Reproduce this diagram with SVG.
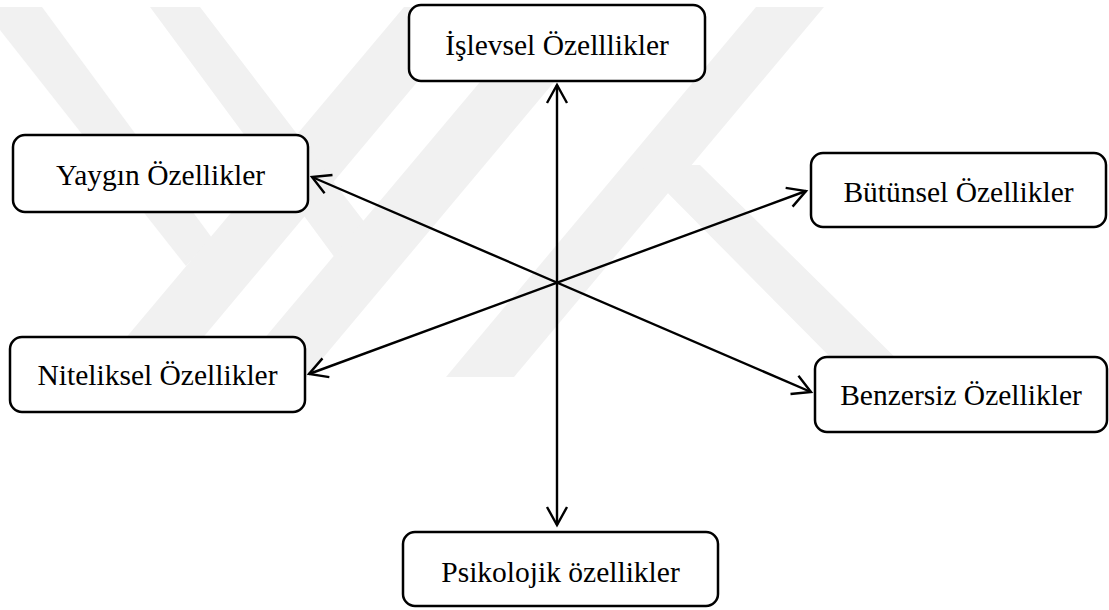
<svg xmlns="http://www.w3.org/2000/svg" width="1109" height="610" viewBox="0 0 1109 610">
  <defs>
    <style>
      .box { fill: #ffffff; stroke: #000000; stroke-width: 2.5; }
      .label { font-size: 29.5px; fill: #000000; text-anchor: middle; }
      .link { fill: none; stroke: #000000; stroke-width: 2.4; marker-start: url(#head); marker-end: url(#head); }
      .mark { fill: #f1f1f1; stroke: none; }
    </style>
    <marker id="head" markerUnits="userSpaceOnUse" viewBox="-22 -12 26 24" markerWidth="26" markerHeight="24" refX="0" refY="0" orient="auto-start-reverse" overflow="visible">
      <path d="M -18 -10 L 0 0 L -18 10" fill="none" stroke="#000000" stroke-width="2.4" stroke-linejoin="miter"/>
    </marker>
  </defs>

  <rect width="1109" height="610" fill="#ffffff"/>

  <!-- faint background emblem: slanted stems with arms -->
  <g id="emblem">
    <polygon class="mark" points="0,7 42,7 212,238 186,266 0,30"/>
    <polygon class="mark" points="93,377 170,377 480,7 404,7"/>
    <polygon class="mark" points="150,7 200,7 372,232 338,262"/>
    <polygon class="mark" points="232,377 307,377 617,7 543,7"/>
    <polygon class="mark" points="446,377 514,377 824,7 756,7"/>
    <polygon class="mark" points="640,165 700,165 915,377 850,377"/>
  </g>

  <!-- connectors -->
  <g id="connectors">
    <line class="link" x1="557" y1="85" x2="557" y2="525"/>
    <line class="link" x1="312" y1="177" x2="811" y2="392"/>
    <line class="link" x1="309" y1="374" x2="806" y2="191"/>
  </g>

  <g font-family="'Liberation Serif', 'Times New Roman', serif">
    <g id="islevsel">
      <rect class="box" x="409" y="5" width="296" height="76" rx="12"/>
      <text class="label" x="557" y="55">İşlevsel Özelllikler</text>
    </g>
    <g id="yaygin">
      <rect class="box" x="13" y="135" width="295" height="77" rx="12"/>
      <text class="label" x="160.5" y="184.5">Yaygın Özellikler</text>
    </g>
    <g id="butunsel">
      <rect class="box" x="811" y="153" width="295" height="74" rx="12"/>
      <text class="label" x="958.5" y="201.5">Bütünsel Özellikler</text>
    </g>
    <g id="niteliksel">
      <rect class="box" x="10" y="337" width="295" height="75" rx="12"/>
      <text class="label" x="157.5" y="385">Niteliksel Özellikler</text>
    </g>
    <g id="benzersiz">
      <rect class="box" x="815" y="357" width="292" height="75" rx="12"/>
      <text class="label" x="961" y="405">Benzersiz Özellikler</text>
    </g>
    <g id="psikolojik">
      <rect class="box" x="403" y="532" width="315" height="74" rx="12"/>
      <text class="label" x="560.5" y="581.5">Psikolojik özellikler</text>
    </g>
  </g>
</svg>
